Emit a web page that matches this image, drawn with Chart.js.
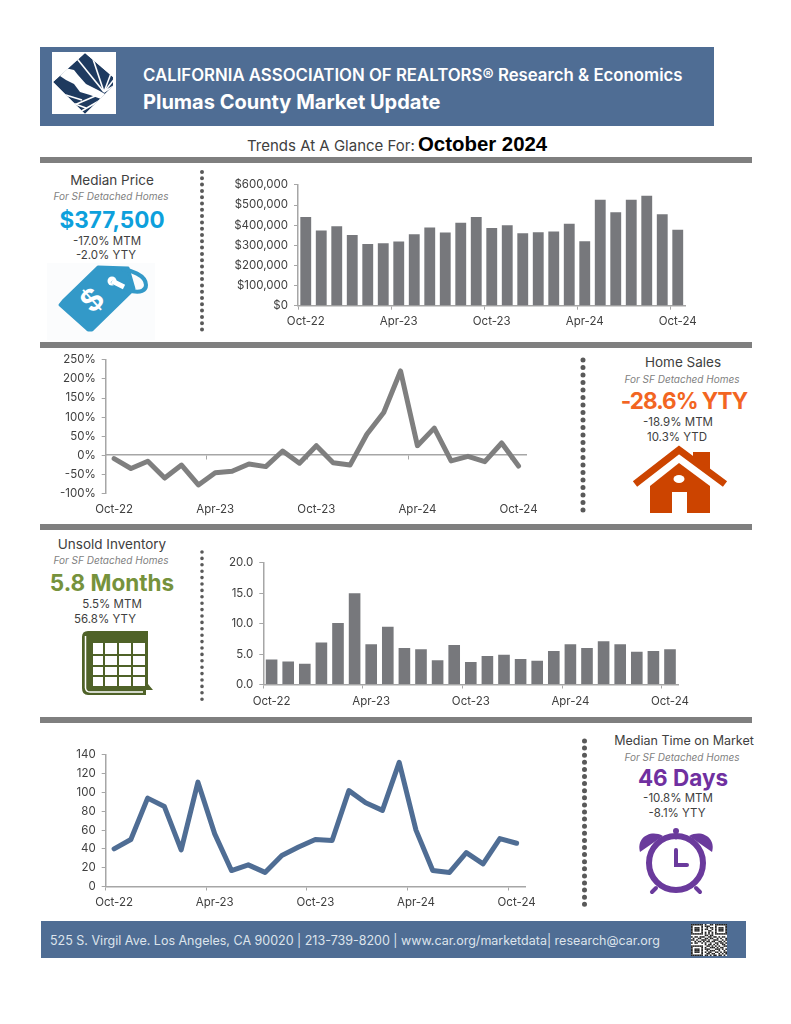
<!DOCTYPE html>
<html>
<head>
<meta charset="utf-8">
<title>Plumas County Market Update</title>
<script src="https://cdn.jsdelivr.net/npm/chart.js@4/dist/chart.umd.min.js"></script>
<style>
    html, body { margin: 0; padding: 0; background: #fff; }
    #page { position: relative; width: 791px; height: 1024px; overflow: hidden; font-family: Inter, sans-serif; color: #404040; }
    #page > * { position: absolute; }
    canvas { display: block; }
    .band { background: #4f6d94; }
    .rule { left: 40px; width: 712px; background: #7f7f7f; }
    .t { transform: translate(-50%, -50%); white-space: nowrap; }
    .title { font-size: 13.5px; }
    .sub { font-size: 10px; font-style: italic; color: #7f7f7f; }
    .big { font-size: 22.5px; font-weight: 700; }
    .num { font-size: 11.5px; }
    svg { overflow: visible; }
</style>
</head>
<body>
<div id="page">
    <div class="band" style="left:40px;top:47px;width:674px;height:79px"></div>
    <svg style="left:0;top:0" width="791" height="1024">
        <!-- logo -->
        <rect x="52" y="52" width="64" height="62" fill="#fff"/>
        <clipPath id="diamond"><polygon points="53,82 85,53 113,77 113,86 85,114"/></clipPath>
        <g clip-path="url(#diamond)">
            <polygon points="53,82 85,53 113,77 113,86 85,114" fill="#1e3a5f"/>
            <g stroke="#fff" stroke-width="1.6">
                <line x1="104" y1="92" x2="70" y2="50"/>
                <line x1="104" y1="92" x2="90" y2="50"/>
                <line x1="104" y1="92" x2="116" y2="60"/>
                <line x1="104" y1="92" x2="120" y2="72"/>
                <line x1="104" y1="92" x2="120" y2="82"/>
                <line x1="56" y1="92" x2="82" y2="100"/>
                <line x1="64" y1="100" x2="86" y2="108"/>
                <line x1="80" y1="112" x2="104" y2="98"/>
                <line x1="72" y1="106" x2="100" y2="94"/>
            </g>
            <polygon points="65,68 74,70 78,75 86,84 98,90 105,94 101,99 90,95 80,92 74,84 66,80 60,76" fill="#fff"/>
        </g>

        <!-- dotted separators -->
        <line x1="202" y1="172" x2="202" y2="330" stroke="#595959" stroke-width="4" stroke-linecap="round" stroke-dasharray="0 6.3"/>
        <line x1="583" y1="360" x2="583" y2="517" stroke="#595959" stroke-width="5" stroke-linecap="round" stroke-dasharray="0 7.5"/>
        <line x1="202" y1="552" x2="202" y2="704" stroke="#595959" stroke-width="3.6" stroke-linecap="round" stroke-dasharray="0 6.4"/>
        <line x1="584.5" y1="741" x2="584.5" y2="905" stroke="#595959" stroke-width="5" stroke-linecap="round" stroke-dasharray="0 7.1"/>

        <!-- price tag -->
        <rect x="47" y="263" width="108" height="77" fill="#fbfcfd"/>
        <polygon points="60,305 64,300 98,267 128,268 134,289 92,330 88,330" fill="#3399c8" stroke="#3399c8" stroke-width="3" stroke-linejoin="round"/>
        <circle cx="112" cy="281" r="4.5" fill="#fff"/>
        <path d="M112 281 C122 291 146 297 146 285 C146 275 130 270 122 269" fill="none" stroke="#3399c8" stroke-width="4"/>
        <path d="M112 281 L124 287" stroke="#fff" stroke-width="5"/>
        <text x="92" y="311" transform="rotate(-42 92 300)" text-anchor="middle" font-family="Liberation Sans" font-weight="700" font-size="33" fill="#fff">$</text>

        <!-- house -->
        <g fill="#cc4400">
            <polygon points="693,452 710,452 710,475 693,462"/>
            <polygon points="650,486 679,463 710,486 710,513 650,513"/>
        </g>
        <polyline points="635,484 679,450 725,484" fill="none" stroke="#cc4400" stroke-width="7"/>
        <rect x="672" y="492" width="15" height="21" fill="#fff"/>
        <ellipse cx="679" cy="479" rx="5.5" ry="4" fill="#fff"/>

        <!-- calendar -->
        <path d="M88 631 H148 V684 L153 690 H146 V695 H88 Q82 695 82 688 V637 Q82 631 88 631 Z" fill="#4f6228"/>
        <path d="M85.5 636 V688 Q86 692 90 692 H143" fill="none" stroke="#fff" stroke-width="1.5"/>
        <g fill="#fff">
            <rect x="93" y="643" width="10" height="11"/><rect x="105" y="643" width="12" height="11"/><rect x="119" y="643" width="12" height="11"/><rect x="133" y="643" width="12" height="11"/>
            <rect x="93" y="656" width="10" height="9"/><rect x="105" y="656" width="12" height="9"/><rect x="119" y="656" width="12" height="9"/><rect x="133" y="656" width="12" height="9"/>
            <rect x="93" y="667" width="10" height="8"/><rect x="105" y="667" width="12" height="8"/><rect x="119" y="667" width="12" height="8"/><rect x="133" y="667" width="12" height="8"/>
            <rect x="93" y="677" width="10" height="9"/><rect x="105" y="677" width="12" height="9"/><rect x="119" y="677" width="12" height="9"/><rect x="133" y="677" width="12" height="9"/>
        </g>

        <!-- alarm clock -->
        <g fill="#6a3a9c" stroke="none">
            <path d="M640 852 C636 838 650 829 663 836 Z"/>
            <path d="M712 852 C716 838 702 829 689 836 Z"/>
            <circle cx="676" cy="831" r="3"/>
        </g>
        <g fill="none" stroke="#6a3a9c" stroke-linecap="round">
            <circle cx="676" cy="863" r="27" stroke-width="6"/>
            <path d="M676 833 V838" stroke-width="3"/>
            <path d="M676 850 V865 H687" stroke-width="4"/>
            <path d="M656 888 L652 892 M696 888 L700 892" stroke-width="4"/>
        </g>
    </svg>

    <div class="t" style="left:143px;top:75px;transform:translateY(-50%);font-size:16.8px;font-weight:600;color:#fff">CALIFORNIA ASSOCIATION OF REALTORS® Research &amp; Economics</div>
    <div class="t" style="left:143px;top:102px;transform:translateY(-50%);font-size:20px;font-weight:700;color:#fff">Plumas County Market Update</div>
    <div class="t" style="left:247px;top:145px;transform:translateY(-50%);font-size:15px">Trends At A Glance For:</div>
    <div class="t" style="left:418px;top:143.5px;transform:translateY(-50%);font-family:'Liberation Sans';font-size:20.4px;font-weight:700;color:#000">October 2024</div>

    <div class="rule" style="top:157px;height:6px"></div>
    <div class="rule" style="top:342px;height:6px"></div>
    <div class="rule" style="top:524px;height:6px"></div>
    <div class="rule" style="top:717px;height:6px"></div>

    <div class="t title" style="left:112px;top:180px">Median Price</div>
    <div class="t sub" style="left:111px;top:196px">For SF Detached Homes</div>
    <div class="t big" style="left:112px;top:219px;color:#0da0dc">$377,500</div>
    <div class="t num" style="left:107px;top:241px">-17.0% MTM</div>
    <div class="t num" style="left:106px;top:255px">-2.0% YTY</div>

    <div class="t title" style="left:683px;top:362px">Home Sales</div>
    <div class="t sub" style="left:682px;top:379px">For SF Detached Homes</div>
    <div class="t big" style="left:684px;top:400px;color:#f26522;letter-spacing:-1px">-28.6% YTY</div>
    <div class="t num" style="left:678px;top:422px">-18.9% MTM</div>
    <div class="t num" style="left:677px;top:437px">10.3% YTD</div>

    <div class="t title" style="left:112px;top:544px">Unsold Inventory</div>
    <div class="t sub" style="left:111px;top:560px">For SF Detached Homes</div>
    <div class="t big" style="left:112px;top:582px;color:#76923c">5.8 Months</div>
    <div class="t num" style="left:112px;top:604px">5.5% MTM</div>
    <div class="t num" style="left:105px;top:619px">56.8% YTY</div>

    <div class="t title" style="left:684px;top:740px;font-size:12.5px">Median Time on Market</div>
    <div class="t sub" style="left:682px;top:757px">For SF Detached Homes</div>
    <div class="t big" style="left:683px;top:777px;color:#7030a0">46 Days</div>
    <div class="t num" style="left:678px;top:798px">-10.8% MTM</div>
    <div class="t num" style="left:677px;top:813px">-8.1% YTY</div>

    <div class="band" style="left:41px;top:921px;width:705px;height:37px"></div>
    <div class="t" style="left:50px;top:940px;transform:translateY(-50%);font-size:12.5px;color:#dde4ec">525 S. Virgil Ave. Los Angeles, CA 90020 | 213-739-8200 | www.car.org/marketdata| research@car.org</div>
    <svg id="qr" style="left:691px;top:924px" width="36" height="32" viewBox="0 0 21 21" preserveAspectRatio="none"></svg>

    <canvas id="priceChart" style="left:228px;top:172px"></canvas>
    <canvas id="salesChart" style="left:50px;top:347px"></canvas>
    <canvas id="inventoryChart" style="left:208px;top:550px"></canvas>
    <canvas id="daysChart" style="left:50px;top:742px"></canvas>
</div>

<script>
const months = [
    "Oct-22", "Nov-22", "Dec-22", "Jan-23", "Feb-23", "Mar-23", "Apr-23", "May-23", "Jun-23",
    "Jul-23", "Aug-23", "Sep-23", "Oct-23", "Nov-23", "Dec-23", "Jan-24", "Feb-24", "Mar-24",
    "Apr-24", "May-24", "Jun-24", "Jul-24", "Aug-24", "Sep-24", "Oct-24"
];
const medianPrice = [
    441000, 374000, 394000, 351000, 306000, 310000, 319000, 355000, 389000,
    364000, 412000, 440000, 386000, 399000, 360000, 365000, 369000, 407000,
    320000, 526000, 464000, 526000, 546000, 454000, 377500
];
const salesYoY = [
    -9, -35, -16, -60, -26, -78, -46, -42, -23, -30, 11, -21, 25,
    -20, -26, 55, 112, 221, 25, 71, -15, -3, -17, 32, -28.6
];
const inventory = [
    4.1, 3.8, 3.4, 6.9, 10.1, 15.0, 6.6, 9.5, 6.0, 5.8, 4.0, 6.5, 3.7,
    4.7, 4.9, 4.2, 3.9, 5.5, 6.6, 6.0, 7.1, 6.6, 5.4, 5.5, 5.8
];
const daysOnMarket = [
    40, 50, 94, 85, 39, 111, 56, 17, 23, 15, 33, 42, 50,
    49, 102, 89, 81, 132, 60, 17, 15, 36, 24, 51, 46
];

const qrRows = [
    "111111101001101111111", "100000101110001000001", "101110100101101011101", "101110101100101011101",
    "101110100011001011101", "100000101010101000001", "111111101010101111111", "000000001101100000000",
    "101101110011011010110", "010011001101100101001", "110100111010011100101", "001011010110110011010",
    "101100101001001101101", "000000001011010100110", "111111100110101010011", "100000101001110101100",
    "101110101110001110101", "101110100101110010010", "101110101011001101011", "100000100110110010101",
    "111111101101011011010"
];
document.getElementById("qr").innerHTML = '<rect width="21" height="21" fill="#fff"/>' + qrRows.map((row, y) =>
    [...row].map((c, x) => c === "1" ? `<rect x="${x}" y="${y}" width="1" height="1" fill="#222"/>` : "").join("")
).join("");

const FONT = { family: "Inter, sans-serif", size: 11.5 };
const TEXT = "#404040";
const AXIS = "#a6a6a6";

function xAxis(height, padding) {
    return {
        offset: true,
        border: { color: AXIS, width: 1.5 },
        grid: {
            offset: true,
            drawOnChartArea: false,
            tickLength: 4,
            lineWidth: 1,
            tickColor: ctx => ctx.index % 6 === 0 ? AXIS : "transparent",
        },
        ticks: {
            autoSkip: false,
            maxRotation: 0,
            minRotation: 0,
            padding: padding,
            color: TEXT,
            font: FONT,
            callback: (v, i) => i % 6 === 0 ? months[i] : "",
        },
        afterFit: s => { if (height) s.height = height; },
    };
}

function yAxis(width, min, max, step, format) {
    return {
        min: min,
        max: max,
        border: { color: AXIS, width: 1.5 },
        grid: { drawOnChartArea: false, tickLength: 4, tickColor: AXIS },
        ticks: { stepSize: step, padding: 6, color: TEXT, font: FONT, callback: format },
        afterFit: s => { s.width = width; },
    };
}

function makeChart(id, w, h, type, values, padding, scales, style) {
    const canvas = document.getElementById(id);
    canvas.width = w;
    canvas.height = h;
    return new Chart(canvas, {
        type: type,
        data: { labels: months, datasets: [Object.assign({ data: values }, style)] },
        options: {
            responsive: false,
            animation: false,
            devicePixelRatio: 1,
            layout: { padding: padding },
            plugins: { legend: { display: false }, tooltip: { enabled: false } },
            scales: scales,
        },
    });
}

const barStyle = { backgroundColor: "#77787c", categoryPercentage: 1, barPercentage: 0.7 };
const lineStyle = { fill: false, tension: 0, pointRadius: 0, borderJoinStyle: "round", borderCapStyle: "round" };

// 1. Median price (bars)
makeChart("priceChart", 480, 160, "bar", medianPrice, { top: 11.5, right: 22.5 }, {
    x: xAxis(26.3, 5),
    y: yAxis(70, 0, 600000, 100000, v => "$" + v.toLocaleString("en-US")),
}, barStyle);

// 2. Home sales year over year (line, axis crosses at zero, labels stay low)
const salesX = xAxis(0, 43);
salesX.position = { y: 0 };
makeChart("salesChart", 531, 173, "line", salesYoY, { top: 6.7, right: 22.3, bottom: 26.7 }, {
    x: salesX,
    y: yAxis(55.7, -100, 250, 50, v => v + "%"),
}, Object.assign({ borderColor: "#7f7f7f", borderWidth: 5 }, lineStyle));

// 3. Unsold inventory (bars)
makeChart("inventoryChart", 500, 160, "bar", inventory, { top: 11.7, right: 29.7 }, {
    x: xAxis(25.5, 6),
    y: yAxis(55.3, 0, 20, 5, v => v.toFixed(1)),
}, barStyle);

// 4. Median time on market (line)
makeChart("daysChart", 500, 172, "line", daysOnMarket, { top: 9.3, right: 25 }, {
    x: xAxis(27.5, 5),
    y: yAxis(55.7, 0, 140, 20, v => v),
}, Object.assign({ borderColor: "#4f6d94", borderWidth: 5 }, lineStyle));
</script>
</body>
</html>
